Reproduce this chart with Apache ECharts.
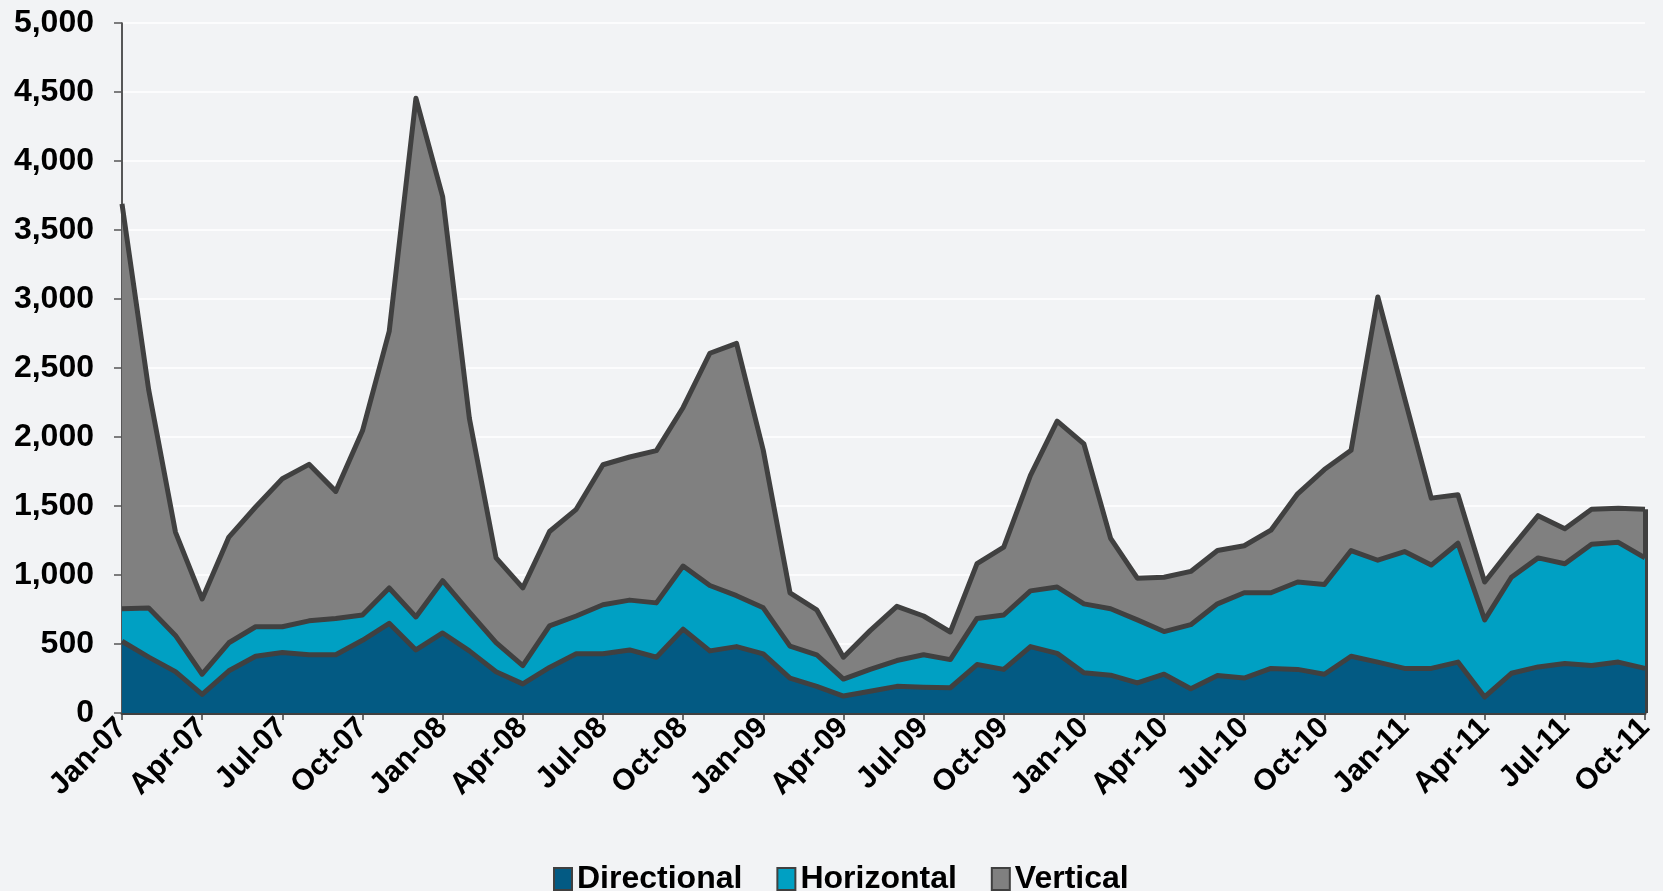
<!DOCTYPE html>
<html>
<head>
<meta charset="utf-8">
<title>Rig count by trajectory</title>
<script src="https://cdn.jsdelivr.net/npm/echarts@6/dist/echarts.min.js"></script>
<style>
  html, body { margin: 0; padding: 0; background: #F2F3F5; }
  #chart { width: 1663px; height: 891px; }
</style>
</head>
<body>
<div id="chart"></div>
<script>
// Monthly categories, Jan-07 through Oct-11
const months = [
  'Jan-07','Feb-07','Mar-07','Apr-07','May-07','Jun-07','Jul-07','Aug-07','Sep-07','Oct-07','Nov-07','Dec-07',
  'Jan-08','Feb-08','Mar-08','Apr-08','May-08','Jun-08','Jul-08','Aug-08','Sep-08','Oct-08','Nov-08','Dec-08',
  'Jan-09','Feb-09','Mar-09','Apr-09','May-09','Jun-09','Jul-09','Aug-09','Sep-09','Oct-09','Nov-09','Dec-09',
  'Jan-10','Feb-10','Mar-10','Apr-10','May-10','Jun-10','Jul-10','Aug-10','Sep-10','Oct-10','Nov-10','Dec-10',
  'Jan-11','Feb-11','Mar-11','Apr-11','May-11','Jun-11','Jul-11','Aug-11','Sep-11','Oct-11'
];

const directional = [
  520,405,300,135,306,411,439,422,422,527,650,457,
  580,450,299,211,330,429,429,457,404,608,450,481,
  429,253,193,123,158,193,186,183,351,316,481,432,
  292,274,218,281,176,271,253,323,316,281,411,369,
  323,323,369,116,288,334,358,344,369,323
];

const horizontal = [
  235,355,262,146,203,214,186,246,263,183,256,239,
  379,281,211,133,302,274,355,361,394,457,474,369,
  333,232,229,123,158,187,236,204,334,394,404,481,
  499,481,457,309,464,520,618,548,633,650,766,738,
  847,749,861,559,696,790,724,879,868,801
];

const vertical = [
  2935,1580,749,545,766,868,1072,1134,921,1335,1859,3759,
  2783,1405,614,563,683,773,1015,1037,1103,1149,1683,1828,
  1142,386,326,158,281,393,281,200,397,492,837,1202,
  1159,510,302,394,386,386,341,454,639,833,727,1908,
  1114,485,351,274,211,306,253,253,246,352
];

const yTicks = { min: 0, max: 5000, interval: 500 };

const FONT = "'Liberation Sans', Arial, sans-serif";
const EDGE = '#404040';
const COLORS = { Directional: '#035A83', Horizontal: '#00A0C3', Vertical: '#808080' };

const last = months.length - 1;
const lastTotal = directional[last] + horizontal[last] + vertical[last];

function areaSeries(name, data, z, extra) {
  return Object.assign({
    name: name,
    type: 'line',
    stack: 'total',
    data: data,
    z: z,
    symbol: 'none',
    showSymbol: false,
    lineStyle: { color: EDGE, width: 5, join: 'round' },
    itemStyle: { color: COLORS[name], borderColor: EDGE, borderWidth: 2 },
    areaStyle: { color: COLORS[name], opacity: 1 },
    emphasis: { disabled: true }
  }, extra || {});
}

const chart = echarts.init(document.getElementById('chart'));
chart.setOption({
  backgroundColor: '#F2F3F5',
  animation: false,
  textStyle: { fontFamily: FONT },
  grid: { left: 122, right: 18, top: 23, bottom: 178, containLabel: false },
  legend: {
    left: 548,
    top: 858,
    itemWidth: 18,
    itemHeight: 22,
    itemGap: 34,
    icon: 'rect',
    textStyle: { fontFamily: FONT, fontSize: 32, fontWeight: 'bold', color: '#000' },
    data: [
      { name: 'Directional', itemStyle: { color: COLORS.Directional, borderColor: EDGE, borderWidth: 2 } },
      { name: 'Horizontal', itemStyle: { color: COLORS.Horizontal, borderColor: EDGE, borderWidth: 2 } },
      { name: 'Vertical', itemStyle: { color: COLORS.Vertical, borderColor: EDGE, borderWidth: 2 } }
    ]
  },
  xAxis: {
    type: 'category',
    data: months,
    boundaryGap: false,
    axisLine: { show: true, lineStyle: { color: EDGE, width: 3 } },
    axisTick: { show: true, interval: 2, length: 7, lineStyle: { color: EDGE, width: 1.5 } },
    axisLabel: {
      interval: 2,
      rotate: 45,
      margin: 10,
      fontFamily: FONT,
      fontSize: 30,
      fontWeight: 'bold',
      color: '#000'
    },
    splitLine: { show: false }
  },
  yAxis: {
    type: 'value',
    min: yTicks.min,
    max: yTicks.max,
    interval: yTicks.interval,
    axisLine: { show: true, lineStyle: { color: '#222', width: 1.5 } },
    axisTick: { show: true, length: 8, lineStyle: { color: '#555', width: 1.5 } },
    axisLabel: {
      margin: 28,
      fontFamily: FONT,
      fontSize: 32,
      fontWeight: 'bold',
      color: '#000',
      formatter: v => v.toLocaleString('en-US')
    },
    splitLine: { show: true, lineStyle: { color: '#FFFFFF', width: 1.5 } }
  },
  series: [
    areaSeries('Directional', directional, 6, {
      // closing edge of the stacked areas at the last month
      markLine: {
        silent: true,
        symbol: ['none', 'none'],
        label: { show: false },
        lineStyle: { color: EDGE, width: 5, type: 'solid' },
        data: [[{ coord: [months[last], 0] }, { coord: [months[last], lastTotal] }]]
      }
    }),
    areaSeries('Horizontal', horizontal, 5),
    areaSeries('Vertical', vertical, 4)
  ]
});
</script>
</body>
</html>
